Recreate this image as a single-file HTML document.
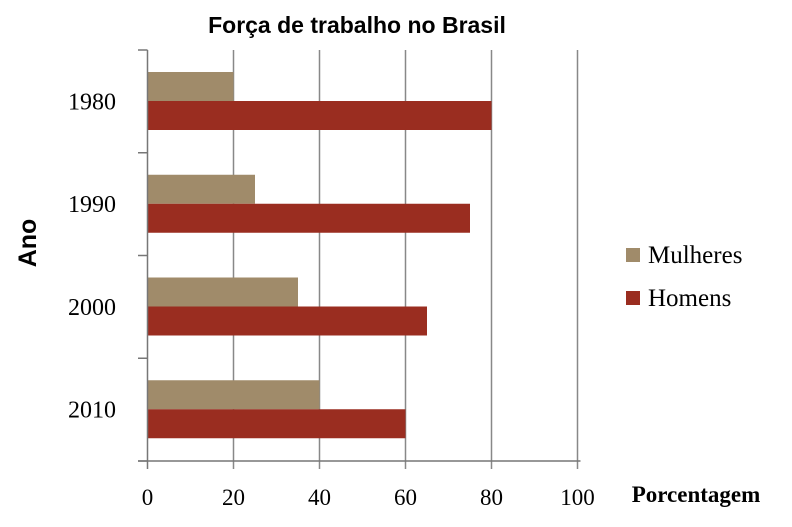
<!DOCTYPE html>
<html><head><meta charset="utf-8"><style>body{margin:0;background:#fff}svg{display:block}</style></head><body>
<svg width="792" height="527" id="c">
<text x="357" y="33" text-anchor="middle" font-family="Liberation Sans, sans-serif" font-weight="bold" font-size="23">Força de trabalho no Brasil</text>
<text transform="translate(36,243) rotate(-90)" text-anchor="middle" font-family="Liberation Sans, sans-serif" font-weight="bold" font-size="25">Ano</text>
<text x="696" y="502" text-anchor="middle" font-family="Liberation Serif, serif" font-weight="bold" font-size="23">Porcentagem</text>
<g id="grid"></g>
<g id="bars"></g>
<g id="axes"></g>
<g font-family="Liberation Serif, serif" font-size="25">
<rect x="626" y="248" width="14" height="14" fill="#A08B6A"/>
<text x="648" y="263">Mulheres</text>
<rect x="626" y="291" width="14" height="14" fill="#9A2D20"/>
<text x="648" y="306">Homens</text>
</g>
</svg>
<script>
const categories=["1980","1990","2000","2010"];
const mulheres=[20,25,35,40];
const homens=[80,75,65,60];
const xTicks=[0,20,40,60,80,100];
const NS="http://www.w3.org/2000/svg";
const x0=147.5,x1=577.5,yTop=50,yBot=461;
const xs=v=>x0+(v/100)*(x1-x0);
const band=(yBot-yTop)/categories.length;
function mk(t,a,p){const e=document.createElementNS(NS,t);for(const k in a)e.setAttribute(k,a[k]);p.appendChild(e);return e;}
const grid=document.getElementById('grid'),bars=document.getElementById('bars'),axes=document.getElementById('axes');
xTicks.forEach(v=>{
 if(v>0){const g=mk('line',{x1:xs(v),x2:xs(v),y1:yTop,y2:yBot+8,stroke:'#888','stroke-width':1.5},grid);
 
 }
 const t=mk('text',{x:xs(v),y:505,'text-anchor':'middle','font-family':'Liberation Serif, serif','font-size':23},axes);
 t.textContent=v;
 
 
});
categories.forEach((c,i)=>{
 const b=yTop+i*band;
 const r1=mk('rect',{x:x0,y:b+22,width:xs(mulheres[i])-x0,height:29,fill:'#A08B6A'},bars);
 
 
 const r2=mk('rect',{x:x0,y:b+51,width:xs(homens[i])-x0,height:29,fill:'#9A2D20'},bars);
 
 
 const t=mk('text',{x:92,y:b+band/2+8,'text-anchor':'middle','font-family':'Liberation Serif, serif','font-size':24},axes);
 t.textContent=c;
 
 
});
for(let i=0;i<=categories.length;i++){const y=yTop+i*band;
 const l=mk('line',{x1:138,x2:x0,y1:y,y2:y,stroke:'#777','stroke-width':1.5},axes);
 
 }
const ya=mk('line',{x1:x0,x2:x0,y1:yTop,y2:yBot+8,stroke:'#777','stroke-width':1.5},axes);


const xa=mk('line',{x1:138,x2:x1+3,y1:yBot,y2:yBot,stroke:'#777','stroke-width':1.5},axes);


</script>
</body></html>
